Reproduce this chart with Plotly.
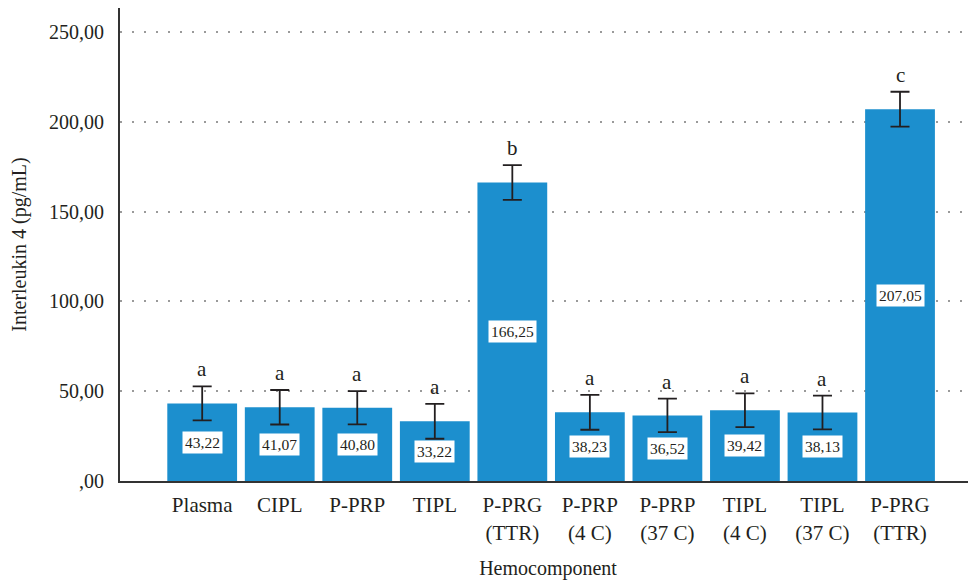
import plotly.graph_objects as go

categories = ["Plasma", "CIPL", "P-PRP", "TIPL", "P-PRG<br>(TTR)", "P-PRP<br>(4 C)",
              "P-PRP<br>(37 C)", "TIPL<br>(4 C)", "TIPL<br>(37 C)", "P-PRG<br>(TTR)"]
values = [43.22, 41.07, 40.80, 33.22, 166.25, 38.23, 36.52, 39.42, 38.13, 207.05]
errors = [9.5, 9.6, 9.3, 9.7, 9.7, 9.7, 9.3, 9.4, 9.4, 9.7]
letters = ["a", "a", "a", "a", "b", "a", "a", "a", "a", "c"]
value_labels = ["43,22", "41,07", "40,80", "33,22", "166,25", "38,23", "36,52", "39,42", "38,13", "207,05"]
ytick_vals = [0, 50, 100, 150, 200, 250]
ytick_text = [",00", "50,00", "100,00", "150,00", "200,00", "250,00"]

FONT = "Liberation Serif"
TXT = "#231f20"
xs = list(range(len(categories)))

fig = go.Figure()
fig.add_trace(go.Bar(
    x=xs, y=values, width=0.9,
    marker=dict(color="#1c8fce", line=dict(width=0)),
    error_y=dict(type="data", array=errors, visible=True, color=TXT, thickness=1.8, width=9.5),
    hoverinfo="skip",
))

for x, v, e, l, lab in zip(xs, values, errors, letters, value_labels):
    fig.add_annotation(x=x, y=v + e, text=l, showarrow=False, yanchor="bottom", yshift=3,
                       font=dict(family=FONT, size=21, color=TXT))
    fig.add_annotation(x=x, y=v / 2, text=lab, showarrow=False, bgcolor="white",
                       borderpad=2, font=dict(family=FONT, size=15.5, color=TXT))

fig.update_layout(
    width=976, height=581,
    margin=dict(l=112, r=8, t=0, b=108),
    plot_bgcolor="white", paper_bgcolor="white",
    showlegend=False,
    font=dict(family=FONT, size=20, color=TXT),
    xaxis=dict(
        range=[-1.06, 9.98], tickmode="array", tickvals=xs, ticktext=categories,
        showgrid=False, zeroline=False, showline=True, linecolor="#333333", linewidth=2,
        ticks="", ticklabelstandoff=4, automargin=False,
        tickfont=dict(family=FONT, size=21, color=TXT),
        title=dict(text="Hemocomponent", font=dict(family=FONT, size=20, color=TXT), standoff=17),
    ),
    yaxis=dict(
        range=[0, 263.4], tickmode="array", tickvals=ytick_vals, ticktext=ytick_text,
        showgrid=True, gridcolor="#9a9a9a", griddash="2px,10px", gridwidth=1.5,
        zeroline=False, showline=True, linecolor="#333333", linewidth=2,
        ticks="", ticklabelstandoff=10, automargin=False,
        tickfont=dict(family=FONT, size=20, color=TXT),
        title=dict(text="Interleukin 4 (pg/mL)", font=dict(family=FONT, size=20, color=TXT), standoff=18),
    ),
)

fig.write_html("out.html")
